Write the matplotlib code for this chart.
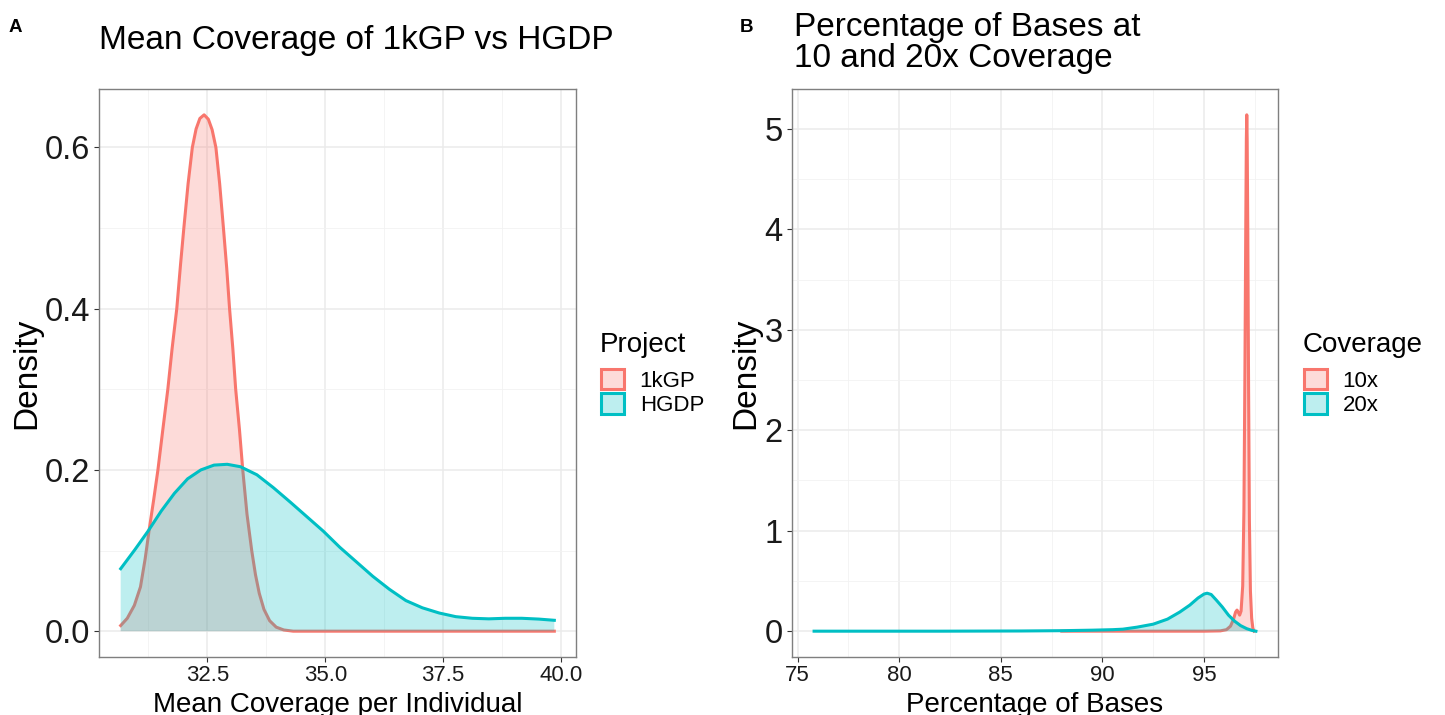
import matplotlib
matplotlib.use("Agg")
import matplotlib.pyplot as plt
from matplotlib.patches import Patch
from matplotlib.colors import to_rgba

plt.rcParams['font.family'] = ['Liberation Sans', 'DejaVu Sans']

RED = "#F8766D"
CYAN = "#00BFC4"
FILL_ALPHA = 0.26

# Panel A: density of mean coverage per individual
kgp_x = [30.66, 30.80, 30.95, 31.08, 31.18, 31.27, 31.36, 31.45, 31.55, 31.66, 31.75,
         31.85, 31.93, 32.00, 32.09, 32.18, 32.26, 32.34, 32.43, 32.52, 32.60, 32.68,
         32.76, 32.84, 32.91, 32.97, 33.04, 33.10, 33.18, 33.25, 33.34, 33.44, 33.52,
         33.60, 33.70, 33.82, 33.96, 34.12, 34.32, 35.0, 36.0, 37.0, 38.0, 39.0, 39.86]
kgp_y = [0.007, 0.016, 0.032, 0.055, 0.09, 0.128, 0.163, 0.2, 0.248, 0.3, 0.35,
         0.4, 0.455, 0.5, 0.555, 0.6, 0.623, 0.636, 0.6405, 0.635, 0.622, 0.6,
         0.555, 0.5, 0.45, 0.4, 0.35, 0.3, 0.25, 0.2, 0.145, 0.1, 0.07,
         0.047, 0.027, 0.013, 0.005, 0.0015, 0.0, 0.0, 0.0, 0.0, 0.0, 0.0, 0.0]

hgdp_x = [30.66, 30.96, 31.24, 31.52, 31.80, 32.08, 32.36, 32.64, 32.92, 33.20, 33.55,
          33.90, 34.26, 34.61, 34.96, 35.31, 35.66, 36.01, 36.36, 36.71, 37.06, 37.42,
          37.77, 38.12, 38.47, 38.82, 39.17, 39.53, 39.86]
hgdp_y = [0.0775, 0.101, 0.124, 0.149, 0.171, 0.189, 0.200, 0.206, 0.207, 0.204, 0.194,
          0.178, 0.160, 0.142, 0.124, 0.104, 0.086, 0.068, 0.052, 0.038, 0.029, 0.0225,
          0.018, 0.016, 0.0153, 0.016, 0.016, 0.015, 0.0135]

# Panel B: density of percentage of bases at 10x / 20x
cov10_x = [88.0, 90.0, 92.0, 93.5, 95.0, 95.8, 96.1, 96.3, 96.45, 96.55, 96.62, 96.68,
           96.75, 96.82, 96.9, 96.96, 97.01, 97.05, 97.08, 97.1, 97.12, 97.15, 97.19,
           97.23, 97.28, 97.34, 97.4, 97.46]
cov10_y = [0.0, 0.0, 0.0, 0.0, 0.0, 0.003, 0.015, 0.05, 0.12, 0.19, 0.21, 0.19,
           0.16, 0.2, 0.45, 1.2, 2.6, 4.0, 4.9, 5.14, 4.9, 4.0, 2.4,
           1.1, 0.4, 0.13, 0.03, 0.0]

cov20_x = [75.81, 78.0, 80.0, 82.0, 84.0, 86.0, 88.0, 89.5, 90.5, 91.0, 91.7, 92.5,
           93.2, 93.8, 94.3, 94.7, 95.0, 95.15, 95.35, 95.6, 95.9, 96.2, 96.5, 96.8,
           97.1, 97.35, 97.55]
cov20_y = [0.0, 0.0, 0.0, 0.0, 0.001, 0.002, 0.005, 0.01, 0.015, 0.02, 0.04, 0.07,
           0.12, 0.19, 0.26, 0.33, 0.37, 0.378, 0.365, 0.31, 0.24, 0.16, 0.10, 0.055,
           0.025, 0.008, 0.0]

panel_a = {"title": ["Mean Coverage of 1kGP vs HGDP"], "xlabel": "Mean Coverage per Individual",
           "xticks": [32.5, 35.0, 37.5, 40.0], "xticklabels": ["32.5", "35.0", "37.5", "40.0"],
           "xminor": [31.25, 33.75, 36.25, 38.75],
           "yticks": [0.0, 0.2, 0.4, 0.6], "yticklabels": ["0.0", "0.2", "0.4", "0.6"],
           "yminor": [0.1, 0.3, 0.5],
           "legend_title": "Project", "labels": ["1kGP", "HGDP"]}
panel_b = {"title": ["Percentage of Bases at", "10 and 20x Coverage"], "xlabel": "Percentage of Bases",
           "xticks": [75, 80, 85, 90, 95], "xticklabels": ["75", "80", "85", "90", "95"],
           "xminor": [77.5, 82.5, 87.5, 92.5, 97.5],
           "yticks": [0, 1, 2, 3, 4, 5], "yticklabels": ["0", "1", "2", "3", "4", "5"],
           "yminor": [0.5, 1.5, 2.5, 3.5, 4.5],
           "legend_title": "Coverage", "labels": ["10x", "20x"]}

W, H = 1445, 715
fig = plt.figure(figsize=(W / 100, H / 100), dpi=100)


def fx(px):
    return px / W


def fy(py):
    return 1 - py / H


def expand(vals):
    # ggplot-style 5% expansion on both sides
    lo, hi = min(vals), max(vals)
    pad = 0.05 * (hi - lo)
    return lo - pad, hi + pad


def draw_panel(ax, series, cfg, ylabel_x):
    for xs, ys, col in series:
        ax.fill_between(xs, 0, ys, facecolor=to_rgba(col, FILL_ALPHA), edgecolor="none", zorder=2)
        ax.plot(xs, ys, color=col, lw=2.2, zorder=2, solid_joinstyle="round")

    all_x = [v for s in series for v in s[0]]
    all_y = [v for s in series for v in s[1]] + [0]
    ax.set_xlim(*expand(all_x))
    ax.set_ylim(*expand(all_y))

    ax.set_xticks(cfg["xticks"])
    ax.set_xticklabels(cfg["xticklabels"])
    ax.set_xticks(cfg["xminor"], minor=True)
    ax.set_yticks(cfg["yticks"])
    ax.set_yticklabels(cfg["yticklabels"])
    ax.set_yticks(cfg["yminor"], minor=True)

    ax.grid(which="major", color="#EBEBEB", lw=1.1, zorder=0)
    ax.grid(which="minor", color="#F2F2F2", lw=0.6, zorder=0)
    ax.set_axisbelow(True)
    for sp in ax.spines.values():
        sp.set_color("#7F7F7F")
        sp.set_linewidth(1.0)

    ax.tick_params(which="major", length=3.5, width=0.8, color="#333333")
    ax.tick_params(which="minor", length=0)
    ax.tick_params(axis="x", labelsize=16, pad=2, labelcolor="#1A1A1A")
    ax.tick_params(axis="y", labelsize=23.5, pad=3, labelcolor="#1A1A1A")

    ax.set_xlabel(cfg["xlabel"], fontsize=20)
    ax.xaxis.set_label_coords(0.5, -0.062)
    ax.set_ylabel("Density", fontsize=24)
    ax.yaxis.set_label_coords(ylabel_x, 0.5)


ax_a = fig.add_axes([fx(99), fy(657), fx(576 - 99), (657 - 89) / H])
draw_panel(ax_a, [(kgp_x, kgp_y, RED), (hgdp_x, hgdp_y, CYAN)], panel_a, -0.118)

ax_b = fig.add_axes([fx(792), fy(657), fx(1278 - 792), (657 - 89) / H])
draw_panel(ax_b, [(cov10_x, cov10_y, RED), (cov20_x, cov20_y, CYAN)], panel_b, -0.064)

# titles and panel tags
fig.text(fx(99), fy(49.3), panel_a["title"][0], fontsize=24, va="baseline", ha="left")
fig.text(fx(794), fy(36), panel_b["title"][0], fontsize=24, va="baseline", ha="left")
fig.text(fx(794), fy(66.7), panel_b["title"][1], fontsize=24, va="baseline", ha="left")
fig.text(fx(9), fy(31.7), "A", fontsize=13.5, weight="bold", va="baseline", ha="left")
fig.text(fx(740), fy(31.7), "B", fontsize=13.5, weight="bold", va="baseline", ha="left")


def add_legend(cfg, x_px, title_y_px, keys_y_px):
    fig.text(fx(x_px), fy(title_y_px), cfg["legend_title"], fontsize=20, va="baseline", ha="left")
    handles = [Patch(facecolor=to_rgba(c, FILL_ALPHA), edgecolor=c, linewidth=2.2) for c in (RED, CYAN)]
    leg = fig.legend(handles, cfg["labels"], fontsize=16, loc="upper left",
                     bbox_to_anchor=(fx(x_px + 1), fy(keys_y_px)),
                     frameon=False, handlelength=1.02, handleheight=1.02,
                     labelspacing=0.08, handletextpad=0.72, borderaxespad=0, borderpad=0)
    return leg


add_legend(panel_a, 600, 352.5, 369)
add_legend(panel_b, 1303, 352.5, 369)

fig.savefig("out.png", dpi=100)
